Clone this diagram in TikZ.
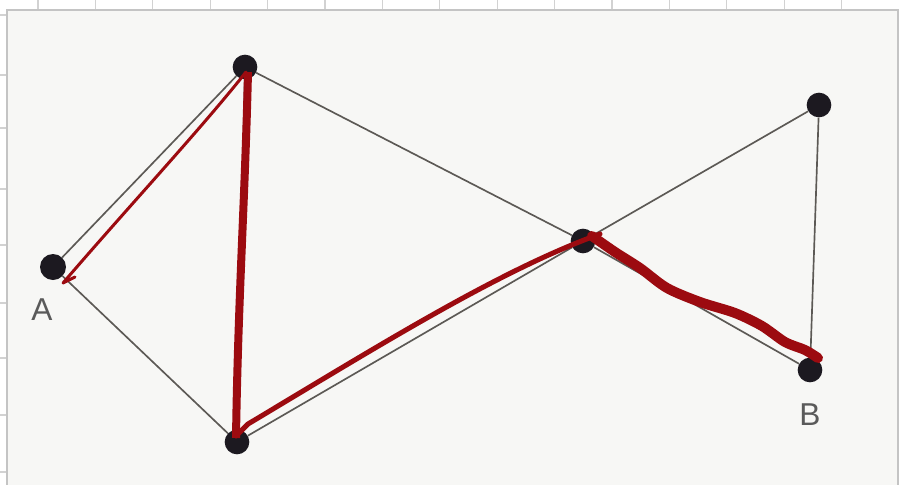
\documentclass[tikz,border=0pt]{standalone}
\usepackage{fontspec}
\setmainfont{Liberation Sans}
\usetikzlibrary{calc}
\definecolor{paper}{HTML}{F7F7F5}
\definecolor{framegray}{HTML}{C4C4C4}
\definecolor{gridgray}{HTML}{D2D2D2}
\definecolor{edgegray}{HTML}{5C5955}
\definecolor{dotblack}{HTML}{1C1920}
\definecolor{penred}{HTML}{9C0B10}
\definecolor{labelgray}{HTML}{5A5A5A}

\begin{document}
\begin{tikzpicture}[
    x=0.3mm, y=-0.3mm,
    every node/.style={font=\fontsize{27}{27}\selectfont},
    vertex/.style={circle, fill=dotblack, inner sep=0pt, minimum size=7.4mm},
    edge/.style={draw=edgegray, line width=0.5mm},
    pen/.style={draw=penred, line cap=round, line join=round},
    label text/.style={text=labelgray, inner sep=0pt},
    grid/.style={draw=gridgray, line width=0.4mm}
]
    \useasboundingbox (0,0) rectangle (901,484);

    % --- Paper and sheet grid ---
    \fill[white] (0,0) rectangle (901,484);
    \foreach \i in {0,...,14}
        \draw[grid] ({38+57.4*\i},0) -- ({38+57.4*\i},10);
    \foreach \y in {15,75,128,189,245,303,358,415,472}
        \draw[grid] (0,\y) -- (7,\y);
    \filldraw[fill=paper, draw=framegray, line width=0.4mm] (7,490) -- (7,10) -- (898,10) -- (898,490);

    % --- Vertices ---
    \node[vertex, minimum size=7.8mm] (a) at (53,267) {};
    \node[vertex] (top) at (245,67) {};
    \node[vertex] (bot) at (237,442) {};
    \node[vertex] (mid) at (583,241) {};
    \node[vertex] (tr) at (819,105) {};
    \node[vertex] (b) at (810,370) {};

    \node[label text] (la) at (42,310) {A};
    \node[label text] (lb) at (810,415) {B};

    % --- Edges ---
    \draw[edge] (a) -- (top);
    \draw[edge] (a) -- (bot);
    \draw[edge] (top) -- (bot);
    \draw[edge] (top) -- (mid);
    \draw[edge] (bot) -- (mid);
    \draw[edge] (mid) -- (tr);
    \draw[edge] (tr) -- (b);
    \draw[edge] (mid) -- (b);

    % --- Red path A -> B ---
    \draw[pen, line width=0.9mm] (75,277) -- (63,283) .. controls (130,205) and (200,130) .. (246,72);
    \draw[pen, line width=2.4mm, line cap=butt] (248,72) .. controls (245,200) and (238,300) .. (236,438);
    \draw[pen, line width=1.5mm] (236,436) -- (248,424) .. controls (380,345) and (500,270) .. (600,234);
    \draw[pen, line width=3mm] plot[smooth, tension=0.5] coordinates {(592,236) (615,252) (640,268) (667,288) (700,302) (735,313) (762,326) (785,342) (805,350) (818,358)};
\end{tikzpicture}
\end{document}
